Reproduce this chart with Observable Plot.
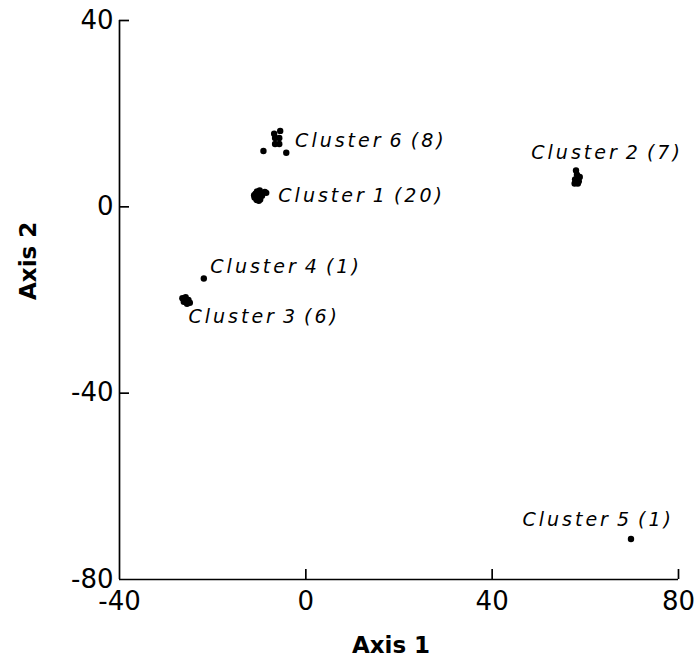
<!DOCTYPE html>
<html>
<head>
<meta charset="utf-8">
<script src="https://cdn.jsdelivr.net/npm/d3@7"></script>
<script src="https://cdn.jsdelivr.net/npm/@observablehq/plot@0.6"></script>
<style>
  html, body { margin: 0; padding: 0; background: #fff; }
  #chart { width: 696px; height: 669px; }
</style>
</head>
<body>
<div id="chart"></div>
<script>
// ---- data ----
const xTicks = [-40, 0, 40, 80];
const yTicks = [-80, -40, 0, 40];

// cluster member points (Axis 1, Axis 2)
const cluster1X = [-11.0, -10.6, -10.2, -10.8, -10.3, -9.8, -10.5, -10.0, -9.6, -11.1, -9.4, -10.1, -9.8, -10.7, -9.9, -10.4, -9.2, -8.8, -8.5, -10.2];
const cluster1Y = [2.0, 1.5, 1.8, 2.8, 2.5, 2.2, 3.3, 3.0, 2.9, 2.5, 2.4, 1.3, 1.6, 2.2, 3.5, 2.0, 3.0, 3.2, 3.0, 2.6];
const cluster2X = [58.0, 58.2, 58.8, 57.8, 58.6, 57.7, 58.4];
const cluster2Y = [7.8, 6.9, 6.4, 5.9, 5.5, 5.0, 5.0];
const cluster3X = [-26.5, -25.8, -25.2, -26.2, -25.5, -24.9];
const cluster3Y = [-19.6, -19.4, -20.0, -20.4, -20.8, -20.6];
const cluster4X = [-21.9];
const cluster4Y = [-15.4];
const cluster5X = [69.8];
const cluster5Y = [-71.3];
const cluster6X = [-9.1, -5.5, -6.8, -6.6, -5.7, -6.6, -5.7, -4.2];
const cluster6Y = [12.0, 16.3, 15.7, 14.8, 14.8, 13.5, 13.5, 11.6];

// cluster labels and their anchor positions (data units)
const labelText = ["Cluster 6 (8)", "Cluster 1 (20)", "Cluster 4 (1)", "Cluster 3 (6)", "Cluster 2 (7)", "Cluster 5 (1)"];
const labelX = [-2.3, -5.9, -20.5, -25.2, 48.4, 46.5];
const labelY = [14.2, 2.3, -12.9, -23.6, 11.6, -67.1];

const xTitle = "Axis 1";
const yTitle = "Axis 2";

// ---- build tables ----
const points = [];
[[cluster1X, cluster1Y], [cluster2X, cluster2Y], [cluster3X, cluster3Y],
 [cluster4X, cluster4Y], [cluster5X, cluster5Y], [cluster6X, cluster6Y]]
  .forEach(([xs, ys]) => xs.forEach((x, i) => points.push({x, y: ys[i]})));
const labels = labelText.map((t, i) => ({t, x: labelX[i], y: labelY[i]}));

const W = 696, H = 669;
const mL = 119, mR = 18, mT = 20, mB = 90;
const plotW = W - mL - mR, plotH = H - mT - mB;
const tickLen = 10;
const fmt = d => String(d); // plain hyphen minus like the reference

const chart = Plot.plot({
  width: W,
  height: H,
  marginLeft: mL,
  marginRight: mR,
  marginTop: mT,
  marginBottom: mB,
  style: {fontFamily: "DejaVu Sans, sans-serif", background: "#fff", color: "#000"},
  x: {domain: [-40, 80]},
  y: {domain: [-80, 40]},
  marks: [
    Plot.axisX({ticks: xTicks, tickSize: 0, tickPadding: 12, tickFormat: fmt, fontSize: 26, label: null}),
    Plot.axisY({ticks: yTicks, tickSize: 0, tickPadding: 6, tickFormat: fmt, fontSize: 26, label: null}),
    Plot.ruleX([-40], {stroke: "#000", strokeWidth: 1.7}),
    Plot.ruleY([-80], {stroke: "#000", strokeWidth: 1.7}),
    Plot.tickY(yTicks.filter(d => d !== -80), {y: d => d, insetRight: plotW - tickLen, stroke: "#000", strokeWidth: 1.7}),
    Plot.tickX(xTicks.filter(d => d !== -40), {x: d => d, insetTop: plotH - tickLen, stroke: "#000", strokeWidth: 1.7}),
    Plot.dot(points, {x: "x", y: "y", r: 3.2, fill: "#000", stroke: "none"}),
    Plot.text(labels, {x: "x", y: "y", text: "t", textAnchor: "start", fontSize: 19, fontStyle: "italic", fill: "#000"}),
    Plot.text([xTitle], {frameAnchor: "bottom", dy: 73, dx: -8, fontSize: 23, fontWeight: "bold", fill: "#000"}),
    Plot.text([yTitle], {frameAnchor: "left", dx: -91, rotate: -90, fontSize: 23, fontWeight: "bold", fill: "#000"})
  ]
});

d3.select(chart).selectAll('g[font-style="italic"] text')
  .attr("letter-spacing", "3px")
  .attr("word-spacing", "-3px");
document.getElementById("chart").appendChild(chart);
</script>
</body>
</html>
